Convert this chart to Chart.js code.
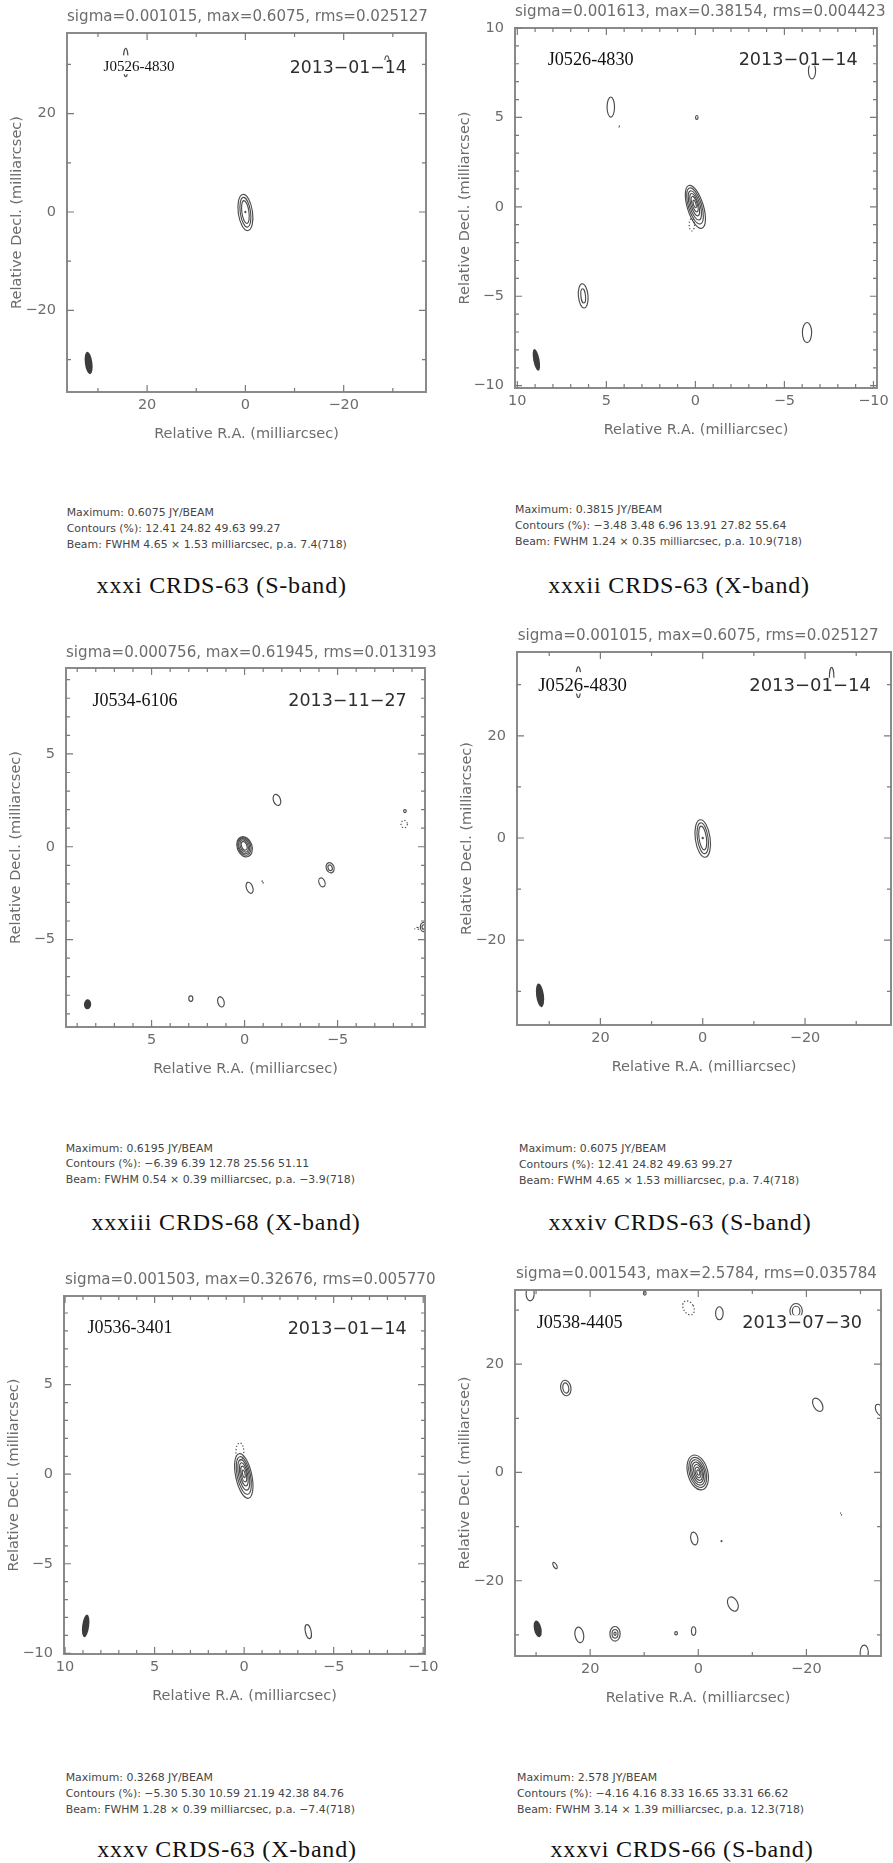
<!DOCTYPE html>
<html><head><meta charset="utf-8"><title>VLBI contour maps</title>
<script src="https://cdn.jsdelivr.net/npm/chart.js@4.4.1/dist/chart.umd.min.js"></script>
<style>
html,body{margin:0;padding:0;background:#fff}
body{position:relative;width:893px;height:1863px;overflow:hidden}
canvas,.t{position:absolute}
.t{white-space:nowrap;margin:0}
</style></head><body>
<script>
// ---------- map headers and annotations ----------
const mapTitles = [
  'sigma=0.001015, max=0.6075, rms=0.025127',
  'sigma=0.001613, max=0.38154, rms=0.004423',
  'sigma=0.000756, max=0.61945, rms=0.013193',
  'sigma=0.001015, max=0.6075, rms=0.025127',
  'sigma=0.001503, max=0.32676, rms=0.005770',
  'sigma=0.001543, max=2.5784, rms=0.035784'
];
const sourceNames = ['J0526-4830', 'J0526-4830', 'J0534-6106', 'J0526-4830', 'J0536-3401', 'J0538-4405'];
const obsDates = ['2013\u221201\u221214', '2013\u221201\u221214', '2013\u221211\u221227', '2013\u221201\u221214', '2013\u221201\u221214', '2013\u221207\u221230'];
const peakLines = ['Maximum: 0.6075 JY/BEAM', 'Maximum: 0.3815 JY/BEAM', 'Maximum: 0.6195 JY/BEAM',
  'Maximum: 0.6075 JY/BEAM', 'Maximum: 0.3268 JY/BEAM', 'Maximum: 2.578 JY/BEAM'];
const contourLines = [
  'Contours (%): 12.41 24.82 49.63 99.27',
  'Contours (%): \u22123.48 3.48 6.96 13.91 27.82 55.64',
  'Contours (%): \u22126.39 6.39 12.78 25.56 51.11',
  'Contours (%): 12.41 24.82 49.63 99.27',
  'Contours (%): \u22125.30 5.30 10.59 21.19 42.38 84.76',
  'Contours (%): \u22124.16 4.16 8.33 16.65 33.31 66.62'
];
const beamLines = [
  'Beam: FWHM 4.65 \u00d7 1.53 milliarcsec, p.a. 7.4(718)',
  'Beam: FWHM 1.24 \u00d7 0.35 milliarcsec, p.a. 10.9(718)',
  'Beam: FWHM 0.54 \u00d7 0.39 milliarcsec, p.a. \u22123.9(718)',
  'Beam: FWHM 4.65 \u00d7 1.53 milliarcsec, p.a. 7.4(718)',
  'Beam: FWHM 1.28 \u00d7 0.39 milliarcsec, p.a. \u22127.4(718)',
  'Beam: FWHM 3.14 \u00d7 1.39 milliarcsec, p.a. 12.3(718)'
];
const captions = ['xxxi CRDS-63 (S-band)', 'xxxii CRDS-63 (X-band)', 'xxxiii CRDS-68 (X-band)',
  'xxxiv CRDS-63 (S-band)', 'xxxv CRDS-63 (X-band)', 'xxxvi CRDS-66 (S-band)'];

// ---------- axis extents and ticks (milliarcsec) ----------
const xLimits = [[-36.75, 36.3], [-10.2, 10.13], [-9.7, 9.6], [-36.8, 36.3], [-10.1, 10.06], [-33.8, 33.9]];
const yLimits = [[-36.6, 36.4], [-10.13, 10.0], [-9.71, 9.63], [-36.6, 36.4], [-10.04, 9.95], [-33.9, 33.7]];
const tickSteps = [10, 1, 1, 10, 1, 10];
const labelSteps = [20, 5, 5, 20, 5, 20];

// ---------- restoring beams: [RA, Dec, FWHM major, FWHM minor, p.a. deg] ----------
const beamP1 = [31.9, -30.7, 4.65, 1.53, 7.4];
const beamP2 = [8.93, -8.56, 1.24, 0.35, 10.9];
const beamP3 = [8.44, -8.49, 0.54, 0.39, -3.9];
const beamP4 = [31.8, -30.8, 4.65, 1.53, 7.4];
const beamP5 = [8.85, -8.47, 1.28, 0.39, -7.4];
const beamP6 = [29.7, -28.9, 3.14, 1.39, 12.3];

// ---------- contour rings: [RA, Dec, semi-major, semi-minor, p.a. deg, negative level] ----------
const ringsP1 = [
  [0, -0.1, 3.7, 1.45, 8, 0], [0, -0.05, 3.05, 1.05, 8, 0], [0, 0, 2.35, 0.72, 8, 0], [0, 0, 0.15, 0.1, 8, 0],
  [24.35, 30.4, 2.9, 0.5, 0, 0], [-28.8, 30.4, 1.37, 0.45, 0, 0]
];
const ringsP2 = [
  [0, 0, 1.25, 0.45, 17, 0], [0.02, 0.05, 1.05, 0.37, 17, 0], [0.03, 0.08, 0.85, 0.29, 17, 0],
  [0.04, 0.12, 0.65, 0.21, 17, 0], [0.04, 0.15, 0.45, 0.14, 17, 0], [0.04, 0.16, 0.22, 0.07, 17, 0],
  [0.2, -1.0, 0.35, 0.15, 0, 1],
  [4.75, 5.58, 0.56, 0.21, 0, 0], [-0.08, 5.0, 0.11, 0.07, 0, 0], [4.3, 4.5, 0.05, 0.03, 0, 1],
  [-6.55, 7.6, 0.45, 0.2, 0, 0],
  [6.3, -4.98, 0.68, 0.27, 5, 0], [6.3, -4.98, 0.4, 0.13, 5, 0],
  [-6.27, -7.03, 0.56, 0.26, 0, 0]
];
const ringsP3 = [
  [0, 0, 0.56, 0.4, 20, 0], [0.01, 0.02, 0.49, 0.34, 20, 0], [0.02, 0.03, 0.42, 0.28, 20, 0],
  [0.02, 0.04, 0.34, 0.21, 20, 0], [0.02, 0.05, 0.24, 0.14, 20, 0],
  [-1.74, 2.52, 0.31, 0.19, 20, 0], [-0.27, -2.21, 0.31, 0.17, 20, 0], [-0.97, -1.9, 0.08, 0.03, 0, 1],
  [-4.6, -1.13, 0.28, 0.21, 20, 0], [-4.6, -1.13, 0.16, 0.11, 20, 0], [-4.16, -1.92, 0.25, 0.16, 20, 0],
  [-8.62, 1.92, 0.08, 0.07, 0, 0], [-8.58, 1.22, 0.2, 0.17, 0, 1],
  [-9.62, -4.32, 0.25, 0.17, 0, 0], [-9.62, -4.32, 0.12, 0.08, 0, 0], [-9.27, -4.4, 0.12, 0.06, 90, 1],
  [2.89, -8.18, 0.15, 0.11, 0, 0], [1.27, -8.36, 0.28, 0.17, 15, 0]
];
const ringsP4 = [
  [0, -0.1, 3.7, 1.45, 8, 0], [0, -0.05, 3.05, 1.05, 8, 0], [0, 0, 2.35, 0.72, 8, 0], [0, 0, 0.15, 0.1, 8, 0],
  [24.3, 30.5, 3.0, 0.5, 0, 0], [-25.2, 31.2, 2.2, 0.45, 0, 0]
];
const ringsP5 = [
  [0.02, -0.1, 1.27, 0.45, 12, 0], [0.02, -0.07, 1.07, 0.37, 12, 0], [0.02, -0.04, 0.87, 0.29, 12, 0],
  [0.02, -0.01, 0.66, 0.21, 12, 0], [0.02, 0.01, 0.45, 0.14, 12, 0], [0.02, 0.02, 0.22, 0.07, 12, 0],
  [0.24, 1.25, 0.5, 0.22, 0, 1],
  [-3.58, -8.79, 0.4, 0.16, 12, 0]
];
const ringsP6 = [
  [0.1, 0, 3.3, 1.85, 15, 0], [0.1, 0, 2.85, 1.55, 15, 0], [0.1, 0, 2.4, 1.27, 15, 0], [0.1, 0, 1.95, 1.0, 15, 0],
  [0.05, 0, 1.5, 0.75, 15, 0], [0.05, 0, 1.0, 0.5, 15, 0], [0, 0, 0.5, 0.25, 15, 0],
  [31.1, 33.0, 1.3, 0.75, 0, 0], [9.9, 33.1, 0.35, 0.25, 0, 0], [1.8, 30.4, 1.4, 0.95, 30, 1],
  [-3.9, 29.4, 1.2, 0.7, 0, 0], [-18.1, 29.8, 1.4, 1.15, 0, 0], [-18.1, 29.8, 0.9, 0.7, 0, 0],
  [24.5, 15.6, 1.45, 0.95, 10, 0], [24.5, 15.6, 0.95, 0.55, 10, 0],
  [-22.1, 12.5, 1.35, 0.8, 30, 0], [-33.6, 11.5, 1.2, 0.7, 30, 0],
  [-26.4, -7.7, 0.25, 0.1, 0, 1], [0.74, -12.2, 1.2, 0.65, 10, 0], [-4.3, -12.7, 0.1, 0.08, 0, 0],
  [26.5, -17.2, 0.65, 0.3, 30, 0], [-6.4, -24.3, 1.4, 0.9, 25, 0],
  [22.0, -30.0, 1.45, 0.8, 10, 0], [15.4, -29.8, 1.35, 0.95, 0, 0], [15.4, -29.8, 0.8, 0.55, 0, 0],
  [15.4, -29.8, 0.3, 0.2, 0, 0], [4.1, -29.7, 0.3, 0.25, 0, 0], [0.86, -29.3, 0.8, 0.4, 0, 0],
  [-30.7, -33.2, 1.3, 0.75, 0, 0]
];
const allRings = [ringsP1, ringsP2, ringsP3, ringsP4, ringsP5, ringsP6];
const allBeams = [beamP1, beamP2, beamP3, beamP4, beamP5, beamP6];

// ---------- page layout (px) ----------
const boxes = [[67, 33, 359, 359], [515, 28, 362, 360], [66, 668, 359, 359],
               [517, 652, 374, 373], [64, 1296, 361, 358], [515, 1290, 366, 366]];
const titlePos = [[67, 16], [515, 11], [66, 651.7], [517.7, 635], [65, 1279], [516, 1273]];
const infoPos = [[66.7, 512.7], [515, 510], [65.7, 1148.3], [519, 1149], [65.7, 1777.7], [517, 1777.7]];
const captionPos = [[221.7, 585.7], [679, 585.7], [226, 1222], [680, 1222], [227, 1849.3], [682, 1849.3]];
// name: [left offset, centre y offset, size]; date: [right offset, centre y offset, size]
const namePlace = [[36.6, 33.3, 15], [32.7, 30.7, 18.2], [26.6, 31.7, 18], [21.3, 32.3, 18.8], [23.4, 31.3, 18], [21.7, 31.7, 18.2]];
const datePlace = [[19.3, 33.3, 17.3], [19.3, 30.7, 17.6], [18.3, 31.7, 17.5], [20, 32.3, 18], [18.3, 31.3, 17.6], [19, 31.7, 17.7]];

const AXIS_TEXT = '#6c6c6c';
const FRAME = '#8a8a8a';
const LINE = '#4c4c4c';
const BEAM_FILL = '#3c3c3c';
const axisFont = { family: 'DejaVu Sans', size: 14.5 };

function addText(txt, x, y, family, size, color, center, extra) {
  const d = document.createElement('div');
  d.className = 't';
  d.textContent = txt;
  d.style.fontFamily = family;
  d.style.fontSize = size + 'px';
  d.style.lineHeight = (size * 1.2) + 'px';
  d.style.color = color;
  d.style.top = (y - size * 0.6) + 'px';
  d.style.left = x + 'px';
  if (center) d.style.transform = 'translateX(-50%)';
  if (extra) Object.assign(d.style, extra);
  document.body.appendChild(d);
}

// draws the contour rings and the filled beam through the chart's scales
const contourPlugin = {
  id: 'contourRings',
  afterDatasetsDraw(chart) {
    const { ctx, chartArea: a, scales: { x, y } } = chart;
    const kx = Math.abs(x.getPixelForValue(1) - x.getPixelForValue(0));
    const ky = Math.abs(y.getPixelForValue(1) - y.getPixelForValue(0));
    ctx.save();
    ctx.beginPath();
    ctx.rect(a.left, a.top, a.right - a.left, a.bottom - a.top);
    ctx.clip();
    chart.data.datasets.forEach(ds => {
      ds.data.forEach(p => {
        const cx = x.getPixelForValue(p.x), cy = y.getPixelForValue(p.y);
        const rot = -p.pa * Math.PI / 180;
        ctx.beginPath();
        ctx.ellipse(cx, cy, Math.max(p.minor * kx, 0.4), Math.max(p.major * ky, 0.4), rot, 0, Math.PI * 2);
        if (ds.kind === 'beam') {
          ctx.fillStyle = BEAM_FILL;
          ctx.fill();
        } else {
          ctx.setLineDash(p.neg ? [1.3, 1.9] : []);
          ctx.lineWidth = 1.15;
          ctx.strokeStyle = LINE;
          ctx.stroke();
        }
      });
    });
    ctx.restore();
  }
};

// box frame with inward tick marks on all four sides
const framePlugin = {
  id: 'pgFrame',
  afterDraw(chart) {
    const { ctx, chartArea: a, scales: { x, y } } = chart;
    ctx.save();
    ctx.strokeStyle = FRAME;
    ctx.lineWidth = 2;
    ctx.strokeRect(a.left, a.top, a.right - a.left, a.bottom - a.top);
    ctx.lineWidth = 1.2;
    ctx.strokeStyle = '#7a7a7a';
    ctx.beginPath();
    x.ticks.forEach(t => {
      const p = x.getPixelForValue(t.value);
      const L = t.label ? 7 : 4;
      ctx.moveTo(p, a.bottom); ctx.lineTo(p, a.bottom - L);
      ctx.moveTo(p, a.top); ctx.lineTo(p, a.top + L);
    });
    y.ticks.forEach(t => {
      const p = y.getPixelForValue(t.value);
      const L = t.label ? 7 : 4;
      ctx.moveTo(a.left, p); ctx.lineTo(a.left + L, p);
      ctx.moveTo(a.right, p); ctx.lineTo(a.right - L, p);
    });
    ctx.stroke();
    ctx.restore();
  }
};

// source name and epoch written inside the map on a white plate
function labelPlugin(i) {
  return {
    id: 'mapLabels',
    afterDatasetsDraw(chart) {
      const { ctx, chartArea: a } = chart;
      ctx.save();
      const [nx, ny, ns] = namePlace[i];
      ctx.font = ns + 'px "Liberation Serif"';
      let w = ctx.measureText(sourceNames[i]).width;
      let base = a.top + ny + 0.33 * ns;
      ctx.fillStyle = '#fff';
      ctx.fillRect(a.left + nx - 3, base - 0.66 * ns - 6, w + 6, 0.66 * ns + 9);
      ctx.fillStyle = '#111';
      ctx.textBaseline = 'alphabetic';
      ctx.fillText(sourceNames[i], a.left + nx, base);

      const [dx, dy, dsz] = datePlace[i];
      ctx.font = dsz + 'px "DejaVu Sans"';
      w = ctx.measureText(obsDates[i]).width;
      base = a.top + dy + 0.365 * dsz;
      const left = a.right - dx - w;
      ctx.fillStyle = '#fff';
      ctx.fillRect(left - 2, base - 0.73 * dsz, w + 4, 0.73 * dsz + 0.5);
      ctx.fillStyle = '#2e2e2e';
      ctx.fillText(obsDates[i], left, base);
      ctx.restore();
    }
  };
}

function tickText(v, lab) {
  const r = Math.round(v);
  if (Math.abs(v - r) > 1e-6 || r % lab !== 0) return '';
  return r < 0 ? '\u2212' + (-r) : String(r);
}

function buildPanel(i) {
  const [bl, bt, bw, bh] = boxes[i];
  const cv = document.createElement('canvas');
  cv.width = bw + 96;
  cv.height = bh + 94;
  cv.style.left = (bl - 66) + 'px';
  cv.style.top = (bt - 34) + 'px';
  document.body.appendChild(cv);

  const ringData = allRings[i].map(r => ({ x: r[0], y: r[1], major: r[2], minor: r[3], pa: r[4], neg: !!r[5] }));
  const b = allBeams[i];
  const beamData = [{ x: b[0], y: b[1], major: b[2] / 2, minor: b[3] / 2, pa: b[4], neg: false }];
  const lab = labelSteps[i];

  new Chart(cv, {
    type: 'scatter',
    data: {
      datasets: [
        { label: 'contours', kind: 'rings', data: ringData, pointRadius: 0, pointHoverRadius: 0 },
        { label: 'beam', kind: 'beam', data: beamData, pointRadius: 0, pointHoverRadius: 0 }
      ]
    },
    options: {
      responsive: false,
      animation: false,
      devicePixelRatio: 1,
      events: [],
      layout: { padding: { top: 34, right: 30, left: 0, bottom: 0 } },
      plugins: { legend: { display: false }, tooltip: { enabled: false }, title: { display: false } },
      scales: {
        x: {
          type: 'linear', reverse: true, min: xLimits[i][0], max: xLimits[i][1],
          grid: { display: false, drawTicks: false }, border: { display: false },
          ticks: { stepSize: tickSteps[i], autoSkip: false, maxRotation: 0, includeBounds: false,
                   padding: 5, color: AXIS_TEXT, font: axisFont, callback: v => tickText(v, lab) },
          title: { display: true, text: 'Relative R.A. (milliarcsec)', color: AXIS_TEXT, font: axisFont,
                   padding: { top: 0, bottom: 9.5 } },
          afterFit(s) { s.height = 60; s.paddingLeft = 0; s.paddingRight = 0; }
        },
        y: {
          type: 'linear', min: yLimits[i][0], max: yLimits[i][1],
          grid: { display: false, drawTicks: false }, border: { display: false },
          ticks: { stepSize: tickSteps[i], autoSkip: false, includeBounds: false,
                   padding: 11, color: AXIS_TEXT, font: axisFont, callback: v => tickText(v, lab) },
          title: { display: true, text: 'Relative Decl. (milliarcsec)', color: AXIS_TEXT, font: axisFont,
                   padding: { top: 8, bottom: 0 } },
          afterFit(s) { s.width = 66; s.paddingTop = 0; s.paddingBottom = 0; }
        }
      }
    },
    plugins: [contourPlugin, labelPlugin(i), framePlugin]
  });

  addText(mapTitles[i], titlePos[i][0], titlePos[i][1], '"DejaVu Sans"', 15.1, AXIS_TEXT, false);
  const [ix, iy] = infoPos[i];
  addText(peakLines[i], ix, iy, '"DejaVu Sans"', 10.9, '#454545', false);
  addText(contourLines[i], ix, iy + 15.7, '"DejaVu Sans"', 10.9, '#454545', false);
  addText(beamLines[i], ix, iy + 31.4, '"DejaVu Sans"', 10.9, '#454545', false);
  addText(captions[i], captionPos[i][0], captionPos[i][1], '"Liberation Serif"', 24, '#111', true,
          { letterSpacing: '0.8px' });
}

for (let i = 0; i < 6; i++) buildPanel(i);
</script>
</body></html>
